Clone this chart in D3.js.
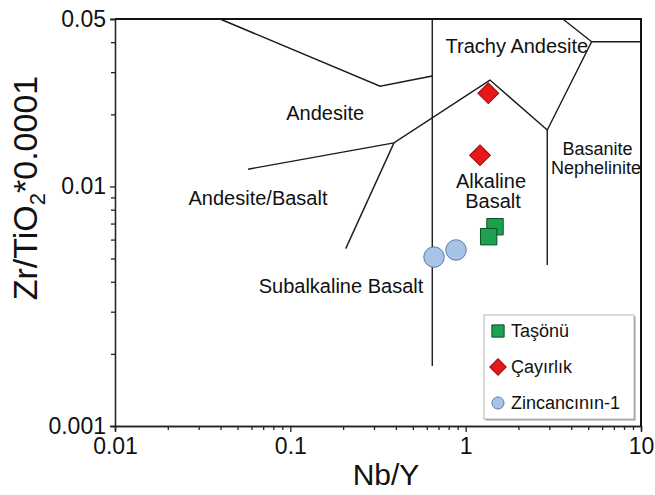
<!DOCTYPE html>
<html>
<head>
<meta charset="utf-8">
<script src="https://cdn.jsdelivr.net/npm/d3@7"></script>
<style>
  html, body { margin: 0; padding: 0; background: #fff; }
  svg { display: block; font-family: "Liberation Sans", Arial, sans-serif; }
</style>
</head>
<body>
<svg id="chart" width="655" height="495"></svg>
<script>
// ---------- data ----------
const xMajorTicks = [0.01, 0.1, 1, 10];
const xTickLabels = ["0.01", "0.1", "1", "10"];
const xMinorTicks = [0.02,0.03,0.04,0.05,0.06,0.07,0.08,0.09,0.2,0.3,0.4,0.5,0.6,0.7,0.8,0.9,2,3,4,5,6,7,8,9];
const yMajorTicks = [0.001, 0.01, 0.05];
const yTickLabels = ["0.001", "0.01", "0.05"];
const yMinorTicks = [0.002,0.003,0.004,0.005,0.006,0.007,0.008,0.009,0.02,0.03,0.04];

// field boundaries (Nb/Y, Zr/TiO2*0.0001)
const boundaryA = [[0.0397, 0.05], [0.325, 0.0262], [0.645, 0.0289]];
const boundaryV1 = [[0.645, 0.05], [0.645, 0.00178]];
const boundaryB = [[0.0574, 0.0118], [0.390, 0.0152], [1.376, 0.0278], [2.92, 0.0172]];
const boundaryC = [[0.207, 0.0055], [0.390, 0.0152]];
const boundaryV2 = [[2.92, 0.0172], [2.92, 0.0047]];
const boundaryD = [[2.92, 0.0172], [5.23, 0.0402], [10, 0.0402]];
const boundaryE = [[3.58, 0.05], [5.23, 0.0402]];
const boundaries = [boundaryA, boundaryV1, boundaryB, boundaryC, boundaryV2, boundaryD, boundaryE];

// field labels
const fieldNames = ["Trachy Andesite", "Andesite", "Andesite/Basalt", "Subalkaline Basalt", "Alkaline", "Basalt", "Basanite", "Nephelinite"];
const fieldX = [1.96, 0.158, 0.0654, 0.1945, 1.395, 1.432, 5.65, 5.54];
const fieldY = [0.0362, 0.0189, 0.00836, 0.00359, 0.00985, 0.00813, 0.01352, 0.01127];

// samples
const seriesNames = ["Taşönü", "Çayırlık", "Zincancının-1"];
const tasonuNbY = [1.47, 1.353];
const tasonuZr = [0.00679, 0.00617];
const cayirlikNbY = [1.346, 1.207];
const cayirlikZr = [0.0245, 0.0135];
const zincNbY = [0.66, 0.881];
const zincZr = [0.00507, 0.00543];

// ---------- chart ----------
const svg = d3.select("#chart");
const L = 115, R = 641, T = 19, B = 426;
const x = d3.scaleLog().domain([0.01, 10]).range([L, R]);
const y = d3.scaleLog().domain([0.001, 0.05]).range([B, T]);

// axes
const tickFont = "23px";
const xMinorAxis = d3.axisBottom(x).tickValues(xMinorTicks).tickSize(4).tickFormat("");
const xMajorAxis = d3.axisBottom(x).tickValues(xMajorTicks).tickSize(6).tickPadding(6)
  .tickFormat((d, i) => xTickLabels[i]);
const yMinorAxis = d3.axisLeft(y).tickValues(yMinorTicks).tickSize(4).tickFormat("");
const yMajorAxis = d3.axisLeft(y).tickValues(yMajorTicks).tickSize(5).tickPadding(4)
  .tickFormat((d, i) => yTickLabels[i]);

function styleAxis(g) {
  g.select(".domain").attr("stroke", "#222").attr("stroke-width", 1.3);
  g.selectAll(".tick line").attr("stroke", "#222").attr("stroke-width", 1.3);
  g.selectAll(".tick text").attr("fill", "#111").style("font-size", tickFont)
    .style("font-family", "'Liberation Sans', Arial, sans-serif");
}
svg.append("g").attr("transform", `translate(0,${B})`).call(xMinorAxis).call(styleAxis);
svg.append("g").attr("transform", `translate(0,${B})`).call(xMajorAxis).call(styleAxis);
svg.append("g").attr("transform", `translate(${L},0)`).call(yMinorAxis).call(styleAxis);
svg.append("g").attr("transform", `translate(${L},0)`).call(yMajorAxis).call(styleAxis);

// top & right frame
svg.append("path")
  .attr("d", `M${L},${y(0.05)}H${x(10)}V${y(0.001)}`)
  .attr("fill", "none").attr("stroke", "#111").attr("stroke-width", 2);

// boundaries
const line = d3.line().x(d => x(d[0])).y(d => y(d[1]));
svg.append("g").selectAll("path").data(boundaries).join("path")
  .attr("d", line).attr("fill", "none").attr("stroke", "#1a1a1a").attr("stroke-width", 1.4);

// field labels
svg.append("g").selectAll("text").data(fieldNames).join("text")
  .attr("x", (d, i) => x(fieldX[i]))
  .attr("y", (d, i) => y(fieldY[i]))
  .attr("text-anchor", "middle")
  .style("font-size", (d, i) => i >= 6 ? "18px" : "20px")
  .attr("fill", "#111")
  .text(d => d);

// axis titles
svg.append("text").attr("x", 386).attr("y", 485).attr("text-anchor", "middle")
  .style("font-size", "30px").attr("fill", "#111").text("Nb/Y");
const yt = svg.append("text").attr("transform", "translate(37,188) rotate(-90)")
  .attr("text-anchor", "middle").style("font-size", "34px").attr("fill", "#111");
yt.append("tspan").text("Zr/TiO");
yt.append("tspan").attr("dy", 8).style("font-size", "22px").text("2");
yt.append("tspan").attr("dy", -8).text("*0.0001");

// markers
const styles = [
  { fill: "#1ca24e", stroke: "#0c4f24", type: d3.symbolSquare, size: 270, rot: 0, lsize: 150 },
  { fill: "#e8171b", stroke: "#8e0c0c", type: d3.symbolSquare, size: 215, rot: 45, lsize: 135 },
  { fill: "#a7c4e6", stroke: "#5d7ea5", type: d3.symbolCircle, size: 330, rot: 0, lsize: 115 }
];
const seriesData = [
  tasonuNbY.map((v, i) => [v, tasonuZr[i]]),
  cayirlikNbY.map((v, i) => [v, cayirlikZr[i]]),
  zincNbY.map((v, i) => [v, zincZr[i]])
];
seriesData.forEach((pts, s) => {
  const st = styles[s];
  svg.append("g").selectAll("path").data(pts).join("path")
    .attr("d", d3.symbol().type(st.type).size(st.size))
    .attr("transform", d => `translate(${x(d[0])},${y(d[1])}) rotate(${st.rot})`)
    .attr("fill", st.fill).attr("stroke", st.stroke).attr("stroke-width", 1);
});

// legend
const lg = svg.append("g").attr("transform", "translate(484,315)");
lg.append("rect").attr("x", 1.5).attr("y", 1.5).attr("width", 150).attr("height", 104).attr("fill", "#9a9a9a");
lg.append("rect").attr("width", 150).attr("height", 104).attr("fill", "#fff").attr("stroke", "#b5b5b5").attr("stroke-width", 1);
const items = lg.selectAll("g.item").data(seriesNames).join("g").attr("class", "item")
  .attr("transform", (d, i) => `translate(0,${16 + i * 36})`);
items.append("path")
  .attr("d", (d, i) => d3.symbol().type(styles[i].type).size(styles[i].lsize)())
  .attr("transform", (d, i) => `translate(14,0) rotate(${styles[i].rot})`)
  .attr("fill", (d, i) => styles[i].fill).attr("stroke", (d, i) => styles[i].stroke).attr("stroke-width", 1);
items.append("text").attr("x", 27).attr("y", 0).attr("dy", "0.35em")
  .style("font-size", "18px").attr("fill", "#111").text(d => d);
</script>
</body>
</html>
